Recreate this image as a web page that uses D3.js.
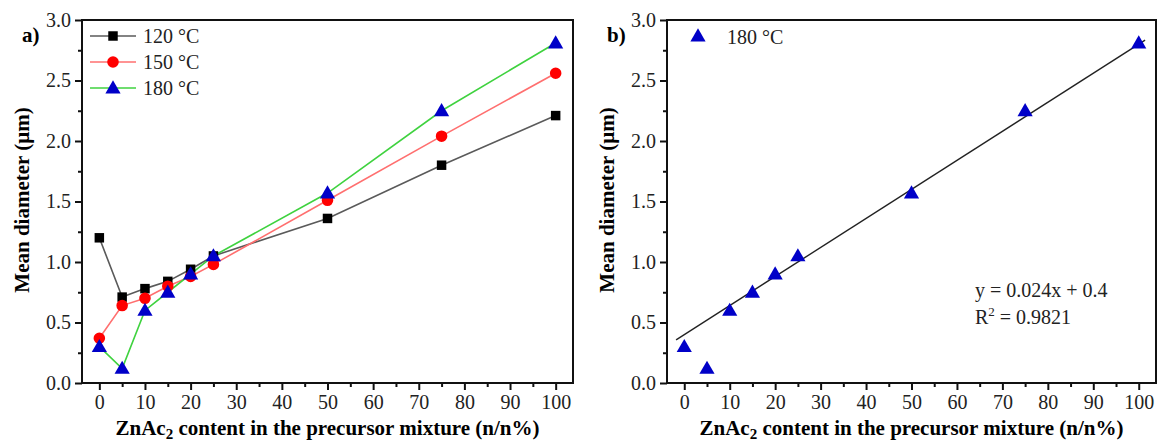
<!DOCTYPE html>
<html>
<head>
<meta charset="utf-8">
<script src="https://cdn.jsdelivr.net/npm/d3@7"></script>
<style>
body{margin:0;background:#fff;}
svg{display:block;font-family:"Liberation Serif","Times New Roman",serif;}
svg text{font-family:"Liberation Serif","Times New Roman",serif;}
</style>
</head>
<body>
<svg id="chart" width="1158" height="443"></svg>
<script>
// data
var content = [0, 5, 10, 15, 20, 25, 50, 75, 100];
var d120 = [1.20, 0.71, 0.78, 0.84, 0.94, 1.05, 1.36, 1.80, 2.21];
var d150 = [0.37, 0.64, 0.70, 0.80, 0.88, 0.98, 1.51, 2.04, 2.56];
var d180 = [0.30, 0.12, 0.60, 0.75, 0.90, 1.05, 1.57, 2.25, 2.81];
var xTicks = [0, 10, 20, 30, 40, 50, 60, 70, 80, 90, 100];
var yTicks = [0, 0.5, 1.0, 1.5, 2.0, 2.5, 3.0];
var fitSlope = 0.024, fitIntercept = 0.4, fitR2 = "0.9821";
var fitRange = [-1.8, 101.4];

var series = [
	{name: "120 °C", values: d120, line: "#5a5a5a", fill: "#000", shape: d3.symbolSquare, size: 90},
	{name: "150 °C", values: d150, line: "#ff6f6f", fill: "#f00", shape: d3.symbolCircle, size: 105},
	{name: "180 °C", values: d180, line: "#3fd23f", fill: "#0000c8", shape: d3.symbolTriangle, size: 100}
];

var svg = d3.select("#chart");
var serif = '"Liberation Serif","Times New Roman",serif';

//PANEL
function panel(left, right, label){
	var top = 20, bottom = 383;
	var x = d3.scaleLinear().domain([-3.8, 103.8]).range([left, right]);
	var y = d3.scaleLinear().domain([0, 3]).range([bottom, top]);
	var g = svg.append("g");

	// minor ticks
	g.append("g").attr("transform", `translate(0,${bottom})`)
		.call(d3.axisBottom(x).tickValues(d3.range(5, 100, 10)).tickSize(4).tickFormat(""))
		.call(a => a.select(".domain").remove());
	g.append("g").attr("transform", `translate(${left},0)`)
		.call(d3.axisLeft(y).tickValues([0.25, 0.75, 1.25, 1.75, 2.25, 2.75]).tickSize(4).tickFormat(""))
		.call(a => a.select(".domain").remove());

	var xa = g.append("g").attr("transform", `translate(0,${bottom})`)
		.call(d3.axisBottom(x).tickValues(xTicks).tickSize(7).tickPadding(5).tickFormat(d3.format("d")));
	xa.select(".domain").remove();

	var ya = g.append("g").attr("transform", `translate(${left},0)`)
		.call(d3.axisLeft(y).tickValues(yTicks).tickSize(7).tickPadding(4).tickFormat(d3.format(".1f")));
	ya.select(".domain").remove();

	g.selectAll("g").attr("font-family", serif).attr("font-size", 20);
	g.selectAll(".tick text").attr("font-family", serif).attr("font-size", 20).attr("fill", "#222");
	g.selectAll(".tick line").attr("stroke", "#111").attr("stroke-width", 2);

	g.append("rect")
		.attr("x", left).attr("y", top)
		.attr("width", right - left).attr("height", bottom - top)
		.attr("fill", "none").attr("stroke", "#111").attr("stroke-width", 2);

	g.append("text")
		.attr("x", (left + right) / 2).attr("y", 435)
		.attr("text-anchor", "middle").attr("font-weight", "bold").attr("font-size", 21)
		.html('ZnAc<tspan font-size="15" dy="4">2</tspan><tspan dy="-4"> content in the precursor mixture (n/n%)</tspan>');

	g.append("text")
		.attr("transform", `translate(${left - 53},200) rotate(-90)`)
		.attr("text-anchor", "middle").attr("font-weight", "bold").attr("font-size", 21)
		.text("Mean diameter (μm)");

	g.append("text")
		.attr("x", left - 60).attr("y", 42)
		.attr("font-weight", "bold").attr("font-size", 21)
		.text(label);

	return {g: g, x: x, y: y};
}

//LEFT
var a = panel(82, 573, "a)");
var line = d3.line().x(d => a.x(d[0])).y(d => a.y(d[1]));

series.forEach(function(s){
	var pts = content.map((c, i) => [c, s.values[i]]);
	a.g.append("path").attr("d", line(pts))
		.attr("fill", "none").attr("stroke", s.line).attr("stroke-width", 1.6);
});
series.forEach(function(s){
	var sym = d3.symbol().type(s.shape).size(s.size);
	a.g.selectAll(null).data(content).enter().append("path")
		.attr("d", sym)
		.attr("transform", (c, i) => `translate(${a.x(c)},${a.y(s.values[i]) + (s.shape === d3.symbolTriangle ? 1 : 0)})`)
		.attr("fill", s.fill);
});

series.forEach(function(s, i){
	var ly = 36 + i * 26;
	a.g.append("line").attr("x1", 90).attr("x2", 136).attr("y1", ly).attr("y2", ly)
		.attr("stroke", s.line).attr("stroke-width", 1.6);
	a.g.append("path").attr("d", d3.symbol().type(s.shape).size(s.size))
		.attr("transform", `translate(113,${ly + (s.shape === d3.symbolTriangle ? 1 : 0)})`)
		.attr("fill", s.fill);
	a.g.append("text").attr("x", 143).attr("y", ly + 7)
		.attr("font-size", 20).attr("fill", "#222").text(s.name);
});

//RIGHT
var b = panel(667, 1156, "b)");
var fitLine = d3.line().x(d => b.x(d)).y(d => b.y(fitSlope * d + fitIntercept));
b.g.append("path").attr("d", fitLine(fitRange))
	.attr("fill", "none").attr("stroke", "#222").attr("stroke-width", 1.4);

var tri = d3.symbol().type(d3.symbolTriangle).size(100);
b.g.selectAll(null).data(content).enter().append("path")
	.attr("d", tri)
	.attr("transform", (c, i) => `translate(${b.x(c)},${b.y(d180[i]) + 1})`)
	.attr("fill", "#0000c8");

b.g.append("path").attr("d", tri).attr("transform", "translate(698,37)").attr("fill", "#0000c8");
b.g.append("text").attr("x", 727).attr("y", 44).attr("font-size", 20).attr("fill", "#222").text("180 °C");

b.g.append("text").attr("x", 975).attr("y", 297).attr("font-size", 20).attr("fill", "#222")
	.text(`y = ${fitSlope}x + ${fitIntercept}`);
b.g.append("text").attr("x", 975).attr("y", 324).attr("font-size", 20).attr("fill", "#222")
	.html(`R<tspan font-size="13" dy="-8">2</tspan><tspan dy="8"> = ${fitR2}</tspan>`);
</script>
</body>
</html>
